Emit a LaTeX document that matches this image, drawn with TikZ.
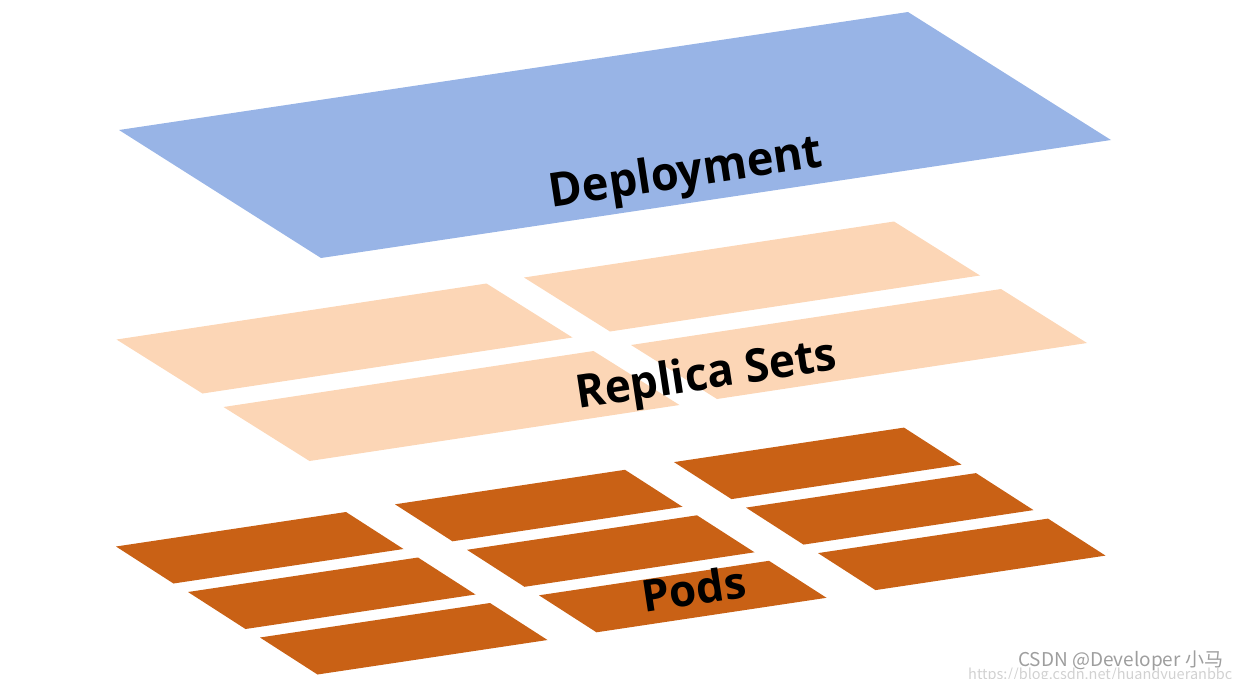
\documentclass[tikz,border=0pt]{standalone}
\usepackage{fontspec}
\setmainfont{Open Sans}
\newfontfamily\cjk{Noto Sans CJK SC}
\usepackage{tikz}
\usepackage{color}
\definecolor{deployblue}{HTML}{98B4E6}
\definecolor{rspeach}{HTML}{FCD6B6}
\definecolor{podorange}{HTML}{C96115}
\tikzstyle{layerlabel} = [anchor=base,inner sep=0pt,rotate=8.6,text=black]
\tikzstyle{watermark} = [anchor=base west,inner sep=0pt]

\begin{document}
\begin{tikzpicture}[x=1pt,y=-1pt]
\useasboundingbox (0,0) rectangle (1237,678);

\fill[deployblue] (119,130) -- (908,12) -- (1111,140) -- (321,258) -- cycle;

\foreach \c in {0,1}
{
 \foreach \r in {0,1}
 {
  \fill[rspeach] (116.5+407.5*\c+107*\r,339.5-62*\c+67.5*\r) -- ++(370,-56) -- ++(86,54) -- ++(-370,56) -- cycle;
 }
}

\foreach \c in {0,1,2}
{
 \foreach \r in {0,1,2}
 {
  \fill[podorange] (116+279*\c+72*\r,546.5-42.2*\c+45.5*\r) -- ++(230,-34.5) -- ++(57.5,37) -- ++(-230,34.5) -- cycle;
 }
}

\node[layerlabel,xscale=0.96,font=\bfseries\fontsize{47}{50}\selectfont] (deploy) at (688,187) {Deployment};
\node[layerlabel,xscale=0.96,font=\bfseries\fontsize{46}{50}\selectfont] (rsets) at (708,389) {Replica Sets};
\node[layerlabel,font=\bfseries\fontsize{44}{50}\selectfont] (pods) at (696,605) {Pods};

\node[watermark,text=black!38,font=\cjk\fontsize{19}{20}\selectfont] (csdn) at (1018,666) {CSDN @Developer 小马};
\node[watermark,text=black!18,font=\cjk\fontsize{14.5}{15}\selectfont] (csdnurl) at (968,679) {https://blog.csdn.net/huandyueranbbc};

\end{tikzpicture}
\end{document}
